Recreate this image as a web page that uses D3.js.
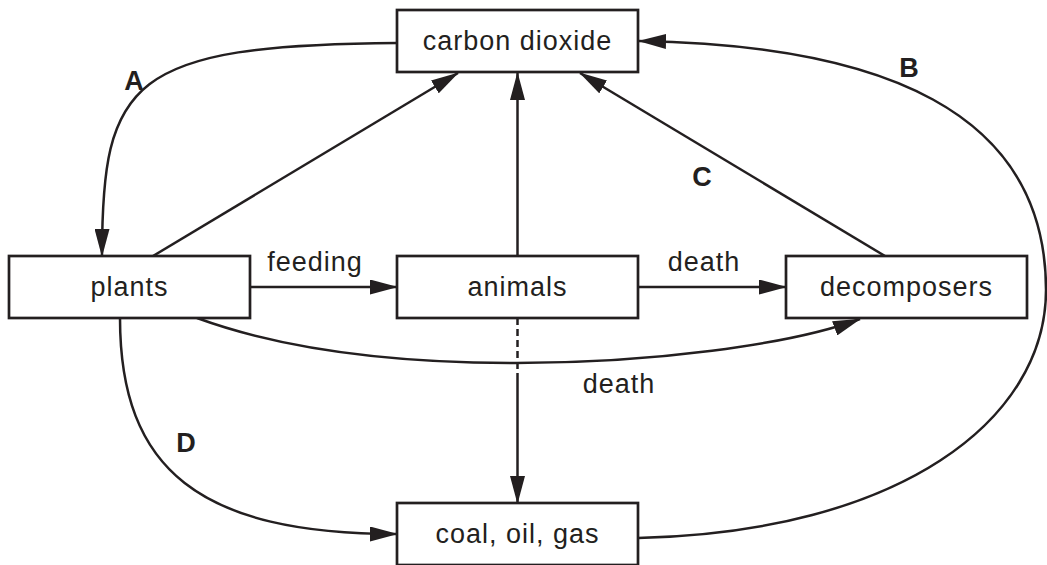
<!DOCTYPE html>
<html>
<head>
<meta charset="utf-8">
<script src="https://cdn.jsdelivr.net/npm/d3@7"></script>
<style>
    body { margin: 0; background: #fff; }
    svg { display: block; }
    .box { fill: #fff; stroke: #231f20; stroke-width: 2.7; }
    .link { fill: none; stroke: #231f20; stroke-width: 2.5; }
    text { fill: #231f20; font-family: "Liberation Sans", Arial, Helvetica, sans-serif; }
    .name, .edge { font-size: 27px; letter-spacing: 1px; }
    .letter { font-size: 27px; font-weight: bold; }
</style>
</head>
<body>
<svg id="diagram" width="1047" height="565"></svg>
<script>
    // --- Diagram content -----------------------------------------------

    var nodeIds = ['co2', 'plants', 'animals', 'decomp', 'fossil'];
    var nodeNames = ['carbon dioxide', 'plants', 'animals', 'decomposers', 'coal, oil, gas'];

    // flows: [from, to, label]
    var flows = [
        ['co2', 'plants', 'A'],
        ['plants', 'co2', ''],
        ['animals', 'co2', ''],
        ['decomp', 'co2', 'C'],
        ['fossil', 'co2', 'B'],
        ['plants', 'animals', 'feeding'],
        ['animals', 'decomp', 'death'],
        ['plants', 'decomp', 'death'],
        ['plants', 'fossil', 'D'],
        ['animals', 'fossil', '']
    ];

    var letterLabels = ['A', 'B', 'C', 'D'];
    var edgeLabels = ['feeding', 'death', 'death'];

    // --- Layout --------------------------------------------------------

    var bw = 241, bh = 62;

    // box column / row anchors (left / top edges)
    var col = { left: 9, mid: 397, right: 786 },
        row = { top: 10, mid: 256, bot: 503 };

    var boxAt = {
        co2:    [col.mid, row.top],
        plants: [col.left, row.mid],
        animals:[col.mid, row.mid],
        decomp: [col.right, row.mid],
        fossil: [col.mid, row.bot]
    };

    var svg = d3.select('#diagram'),
        defs = svg.append('defs');

    defs.append('marker')
        .attr('id', 'head')
        .attr('markerUnits', 'userSpaceOnUse')
        .attr('viewBox', '0 0 28 15')
        .attr('refX', 27).attr('refY', 7.5)
        .attr('markerWidth', 28).attr('markerHeight', 15)
        .attr('orient', 'auto')
      .append('path')
        .attr('d', 'M0,0 L28,7.5 L0,15 Z')
        .attr('fill', '#231f20');

    function box(id) {
        var p = boxAt[id];
        return { x0: p[0], y0: p[1], x1: p[0] + bw, y1: p[1] + bh,
                 cx: p[0] + bw / 2, cy: p[1] + bh / 2 };
    }

    var co2 = box('co2'), pl = box('plants'), an = box('animals'),
        dc = box('decomp'), fo = box('fossil');

    // --- Link geometry -------------------------------------------------

    function pathFor(f) {
        var p = d3.path(), key = f[0] + '>' + f[1];
        switch (key) {
        case 'co2>plants':
            p.moveTo(co2.x0, 43);
            p.bezierCurveTo(130, 45, 102, 80, 102, pl.y0);
            break;
        case 'plants>co2':
            p.moveTo(153, pl.y0);
            p.lineTo(458, co2.y1 + 1);
            break;
        case 'animals>co2':
            p.moveTo(an.cx, an.y0);
            p.lineTo(an.cx, co2.y1 + 1);
            break;
        case 'decomp>co2':
            p.moveTo(885, dc.y0);
            p.lineTo(580, co2.y1 + 1);
            break;
        case 'fossil>co2':
            p.moveTo(fo.x1, 538);
            p.bezierCurveTo(900, 532, 1046, 420, 1046, 290);
            p.bezierCurveTo(1046, 110, 880, 45, co2.x1 + 1, 41);
            break;
        case 'plants>animals':
            p.moveTo(pl.x1, 287);
            p.lineTo(an.x0, 287);
            break;
        case 'animals>decomp':
            p.moveTo(an.x1, 287);
            p.lineTo(dc.x0, 287);
            break;
        case 'plants>decomp':
            p.moveTo(197, pl.y1);
            p.bezierCurveTo(290, 352, 400, 363, 516, 363);
            p.bezierCurveTo(650, 363, 790, 345, 860, dc.y1 + 1);
            break;
        case 'plants>fossil':
            p.moveTo(120, pl.y1);
            p.bezierCurveTo(120, 470, 200, 534, fo.x0, 534);
            break;
        case 'animals>fossil':
            p.moveTo(an.cx, 377);
            p.lineTo(an.cx, fo.y0);
            break;
        }
        return p.toString();
    }

    var linkG = svg.append('g').attr('class', 'links');

    linkG.selectAll('path.link')
        .data(flows)
      .enter().append('path')
        .attr('class', 'link')
        .attr('d', pathFor)
        .attr('marker-end', 'url(#head)');

    // dashed stretch below animals (continues as the solid arrow)
    linkG.append('line')
        .attr('class', 'link')
        .attr('x1', an.cx).attr('y1', an.y1)
        .attr('x2', an.cx).attr('y2', 377)
        .attr('stroke-dasharray', '7,4');

    // --- Boxes ---------------------------------------------------------

    var nodeG = svg.append('g').attr('class', 'nodes')
        .selectAll('g')
        .data(nodeIds)
      .enter().append('g');

    nodeG.append('rect')
        .attr('class', 'box')
        .attr('x', function (d) { return boxAt[d][0]; })
        .attr('y', function (d) { return boxAt[d][1]; })
        .attr('width', bw)
        .attr('height', bh);

    nodeG.append('text')
        .attr('class', 'name')
        .attr('text-anchor', 'middle')
        .attr('x', function (d) { return boxAt[d][0] + bw / 2; })
        .attr('y', function (d) { return boxAt[d][1] + bh / 2; })
        .attr('dy', '0.35em')
        .text(function (d, i) { return nodeNames[i]; });

    // --- Labels --------------------------------------------------------

    var letterPos = { A: [134, 90], B: [909, 77], C: [702, 186], D: [186, 452] };
    var edgePos = [[315, 271], [704, 271], [619, 393]];

    svg.selectAll('text.letter')
        .data(letterLabels)
      .enter().append('text')
        .attr('class', 'letter')
        .attr('text-anchor', 'middle')
        .attr('x', function (d) { return letterPos[d][0]; })
        .attr('y', function (d) { return letterPos[d][1]; })
        .text(function (d) { return d; });

    svg.selectAll('text.edge')
        .data(edgeLabels)
      .enter().append('text')
        .attr('class', 'edge')
        .attr('text-anchor', 'middle')
        .attr('x', function (d, i) { return edgePos[i][0]; })
        .attr('y', function (d, i) { return edgePos[i][1]; })
        .text(function (d) { return d; });
</script>
</body>
</html>
